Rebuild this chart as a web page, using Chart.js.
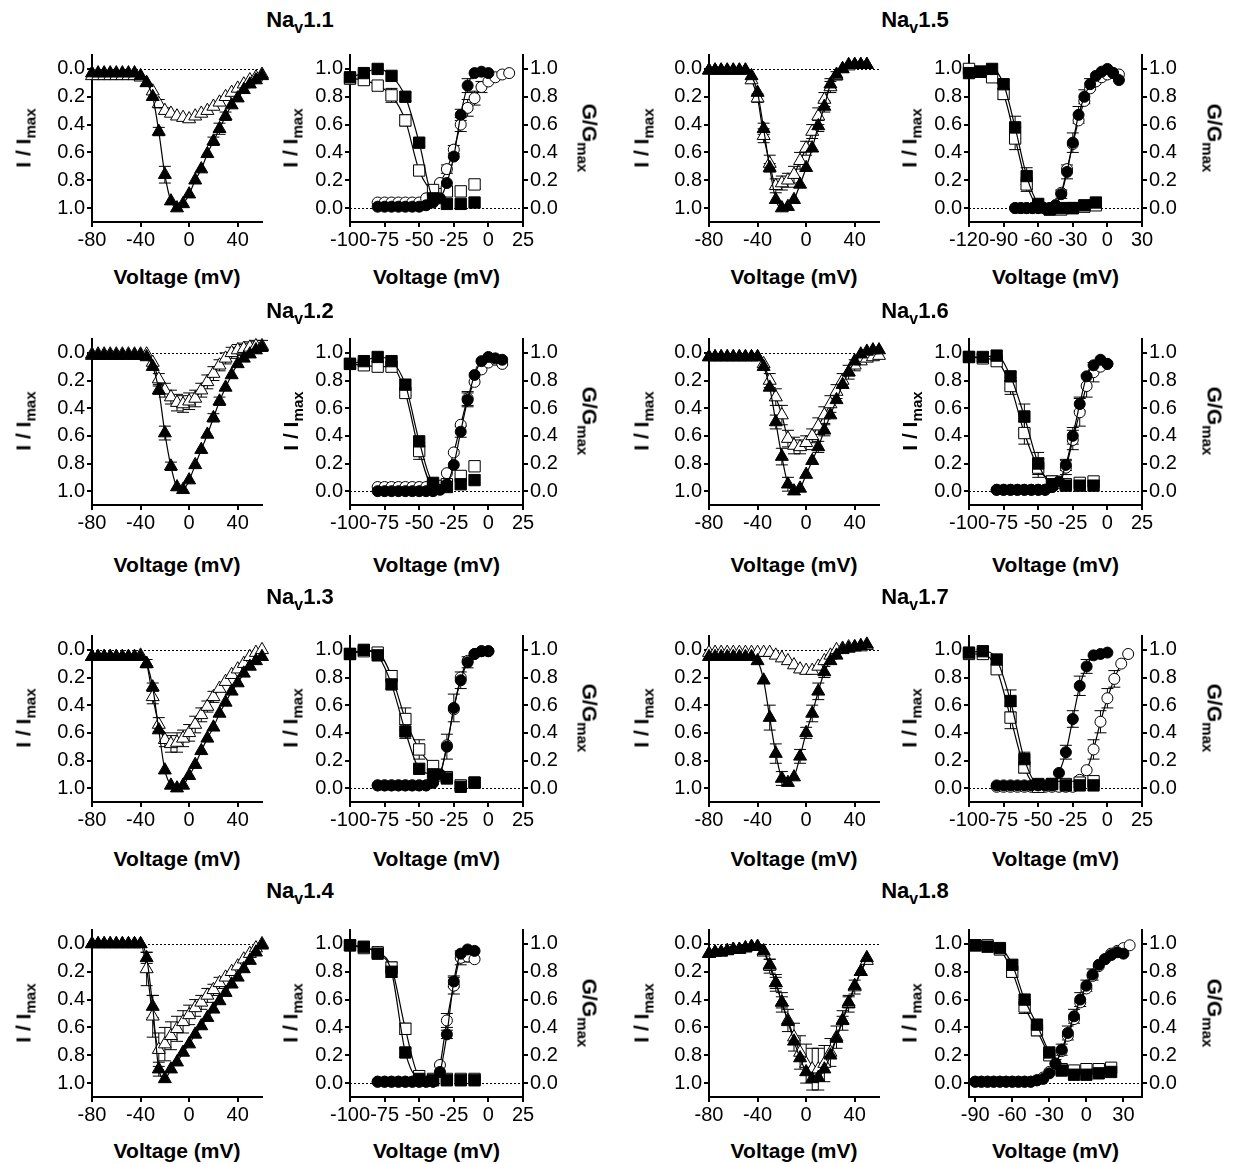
<!DOCTYPE html>
<html><head><meta charset="utf-8">
<script src="https://cdn.jsdelivr.net/npm/chart.js@4.4.1/dist/chart.umd.min.js"></script>
<style>
body{margin:0;background:#fff;width:1233px;height:1164px;position:relative;overflow:hidden;font-family:"Liberation Sans",Arial,Helvetica,sans-serif;}
canvas{position:absolute;}
.lbl{position:absolute;font-weight:bold;white-space:nowrap;color:#000;line-height:1;}
.ttl{font-size:22px;transform:translate(-50%,-50%);}
.ax{font-size:21px;transform:translate(-50%,-50%);}
.rl{font-size:21px;transform:translate(-50%,-50%) rotate(-90deg);}
.rr{font-size:21px;transform:translate(-50%,-50%) rotate(90deg);}
sub{font-size:72%;vertical-align:-0.35em;line-height:0;}
</style></head><body>
<script>
// ---------- voltages / categories ----------
const ivV   = [-80,-75,-70,-65,-60,-55,-50,-45,-40,-35,-30,-25,-20,-15,-10,-5,0,5,10,15,20,25,30,35,40,45,50,55,60];
const ivV50 = [-80,-75,-70,-65,-60,-55,-50,-45,-40,-35,-30,-25,-20,-15,-10,-5,0,5,10,15,20,25,30,35,40,45,50];
const inV   = [-100,-90,-80,-70,-60,-50,-40,-30,-20,-10];
const inV15 = [-120,-110,-100,-90,-80,-70,-60,-50,-40,-30,-20,-10];
const inV18 = [-90,-80,-70,-60,-50,-40,-30,-20,-10,0,10,20];
const actV0   = [-80,-75,-70,-65,-60,-55,-50,-45,-40,-35,-30,-25,-20,-15,-10,-5,0];
const actV10  = [-80,-75,-70,-65,-60,-55,-50,-45,-40,-35,-30,-25,-20,-15,-10,-5,0,5,10];
const actV15  = [-80,-75,-70,-65,-60,-55,-50,-45,-40,-35,-30,-25,-20,-15,-10,-5,0,5,10,15];
const actVm10 = [-80,-75,-70,-65,-60,-55,-50,-45,-40,-35,-30,-25,-20,-15,-10];
const actV18F = [-90,-85,-80,-75,-70,-65,-60,-55,-50,-45,-40,-35,-30,-25,-20,-15,-10,-5,0,5,10,15,20,25,30];
const actV18O = [-90,-85,-80,-75,-70,-65,-60,-55,-50,-45,-40,-35,-30,-25,-20,-15,-10,-5,0,5,10,15,20,25,30,35];

// ---------- tick labels ----------
const ivTicksX  = [-80,-40,0,40];
const yTicks    = [0,0.2,0.4,0.6,0.8,1.0];
const rTicksX   = [-100,-75,-50,-25,0,25];
const rTicksX15 = [-120,-90,-60,-30,0,30];
const rTicksX18 = [-90,-60,-30,0,30];

// ---------- Nav1.1 ----------
const iv11F  = [0.03,0.03,0.03,0.03,0.03,0.03,0.03,0.03,0.05, 0.1,0.2,0.45,0.76,0.95,1.0,0.97,0.9,0.8,0.72, 0.61,0.52,0.43,0.34,0.26,0.21,0.15,0.11,0.08,0.05];
const iv11O  = [0.05,0.05,0.05,0.05,0.05,0.05,0.05,0.05,0.06, 0.1,0.16,0.25,0.3,0.32,0.34,0.35,0.36,0.34,0.32, 0.3,0.27,0.24,0.2,0.17,0.14,0.11,0.08,0.06,0.04];
const iv11FE = [0,0,0,0,0,0,0,0,0, 0,0,0.03,0.06,0,0,0,0,0,0, 0,0.03,0.04,0.03,0,0,0,0,0,0];
const iv11OE = [0,0,0,0,0,0,0,0,0, 0,0,0.03,0.02,0,0,0,0,0,0, 0,0,0,0,0,0,0,0,0,0];
const in11F  = [0.94,0.97,1.0,0.95,0.8,0.47,0.07,0.03,0.03,0.04];
const in11O  = [0.93,0.92,0.88,0.81,0.63,0.27,0.13,0.12,0.12,0.17];
const in11FE = [0,0,0,0,0.03,0.03,0,0,0,0];
const in11OE = [0,0,0,0.05,0.04,0,0,0,0,0.03];
const act11F  = [0.01,0.01,0.01,0.01,0.01,0.01,0.01,0.02,0.04,0.07,0.18,0.37,0.67,0.88,0.97,0.98,0.97];
const act11FE = [0,0,0,0,0,0,0,0,0,0,0,0,0.04,0.05,0,0,0];
const act11O  = [0.04,0.04,0.04,0.04,0.04,0.04,0.04,0.07,0.11,0.18,0.28,0.42,0.6,0.72,0.79,0.87,0.91,0.94,0.96,0.97];
const act11OE = [0,0,0,0,0,0,0,0,0,0,0.03,0.03,0.05,0.06,0.05,0.04,0,0,0,0];

// ---------- Nav1.5 ----------
const iv15F  = [0.01,0.01,0.01,0.01,0.01,0.01,0.01, 0.05,0.17,0.43,0.71,0.94,1.0,0.99,0.94,0.83,0.71,0.57,0.41,0.27,0.11,0.04,0.0,-0.03,-0.03,-0.03,-0.03];
const iv15O  = [0.01,0.01,0.01,0.01,0.01,0.01,0.01, 0.08,0.21,0.48,0.68,0.84,0.82,0.8,0.76,0.66,0.57,0.45,0.34,0.22,0.13,0.05,0.0,-0.02,-0.03,-0.03,-0.03];
const iv15FE = [0,0,0,0,0,0,0,0,0,0.04,0.03,0,0,0,0,0,0,0,0.04,0.04,0.04,0,0,0,0,0,0];
const iv15OE = [0,0,0,0,0,0,0,0,0.03,0.05,0.06,0.05,0.05,0.05,0.06,0.06,0.05,0.05,0.06,0.05,0.04,0.03,0,0,0,0,0];
const in15F  = [0.97,0.98,1.0,0.89,0.58,0.23,0.03,-0.01,0.0,0.0,0.02,0.04];
const in15O  = [1.0,0.98,0.94,0.82,0.5,0.17,0.01,-0.01,-0.01,0.0,0.01,0.02];
const in15FE = [0,0,0,0.03,0.08,0.06,0,0,0,0,0,0];
const in15OE = [0,0,0,0.04,0.08,0.05,0,0,0,0,0,0];
const act15F  = [0,0,0,0,0,0,0,0.02, 0.1,0.26,0.47,0.67,0.8,0.89,0.95,0.98,1.0,0.97,0.92];
const act15FE = [0,0,0,0,0,0,0,0,0.03,0.05,0.07,0.06,0.05,0.04,0,0,0,0,0];
const act15O  = [0,0,0,0,0,0,0,0.02, 0.11,0.28,0.46,0.63,0.77,0.86,0.91,0.94,0.96,0.97,0.96];
const act15OE = [0,0,0,0,0,0,0,0,0,0,0,0,0,0,0,0,0,0,0];

// ---------- Nav1.2 ----------
const iv12F  = [0.02,0.02,0.02,0.02,0.02,0.02,0.02,0.02,0.02, 0.03,0.1,0.27,0.58,0.82,0.97,0.99,0.92,0.81,0.7, 0.59,0.47,0.35,0.25,0.16,0.08,0.04,0.01,-0.02,-0.04];
const iv12O  = [0.01,0.01,0.01,0.01,0.01,0.01,0.01,0.01,0.01,0.01, 0.07,0.19,0.27,0.32,0.36,0.37,0.35,0.33,0.27, 0.21,0.15,0.09,0.04,0.0,-0.02,-0.03,-0.04,-0.05,-0.05];
const iv12FE = [0,0,0,0,0,0,0,0,0,0,0,0.03,0.05,0.03,0,0,0,0,0,0,0.03,0.03,0,0,0,0,0,0,0];
const iv12OE = [0,0,0,0,0,0,0,0,0,0,0, 0.04,0.05,0.05,0.06,0.06,0.06,0.06,0.05,0.05,0.05,0.04,0.04,0.04,0.04,0.04,0.04,0.04,0.04];
const in12F  = [0.92,0.94,0.97,0.94,0.77,0.36,0.06,0.03,0.05,0.08];
const in12O  = [0.92,0.91,0.9,0.9,0.71,0.29,0.04,0.05,0.11,0.18];
const in12FE = [0,0,0,0,0,0,0,0,0,0];
const in12OE = [0,0,0,0,0.02,0.06,0,0,0,0];
const act12F  = [0,0,0,0,0,0,0,0,0, 0.01,0.05,0.19,0.43,0.66,0.84,0.94,0.97,0.96,0.95];
const act12FE = [0,0,0,0,0,0,0,0,0,0,0,0,0.04,0.05,0,0,0,0,0];
const act12O  = [0.03,0.03,0.03,0.03,0.03,0.03,0.03,0.03,0.03, 0.04,0.13,0.28,0.48,0.67,0.79,0.88,0.93,0.95,0.92];
const act12OE = [0,0,0,0,0,0,0,0,0,0,0,0,0,0.05,0,0,0,0,0];

// ---------- Nav1.6 ----------
const iv16F  = [0.03,0.03,0.03,0.03,0.03,0.03,0.03,0.03,0.03, 0.1,0.25,0.5,0.75,0.95,1.0,0.98,0.88,0.78,0.68, 0.56,0.45,0.34,0.23,0.14,0.06,0.01,-0.01,-0.02,-0.02];
const iv16O  = [0.03,0.03,0.03,0.03,0.03,0.03,0.03,0.03,0.03, 0.08,0.2,0.32,0.45,0.62,0.67,0.68,0.65,0.6,0.53, 0.45,0.37,0.28,0.2,0.14,0.09,0.06,0.04,0.03,0.02];
const iv16FE = [0,0,0,0,0,0,0,0,0,0,0,0.05,0.06,0.05,0,0,0,0,0.04,0.04,0,0,0,0,0,0,0,0,0];
const iv16OE = [0,0,0,0,0,0,0,0,0,0, 0.05,0.06,0.07,0.06,0.06,0.05,0.05,0.05,0.06,0.06,0.06,0.05,0.05,0.05,0.04, 0,0,0,0];
const in16F  = [0.97,0.97,0.98,0.83,0.54,0.2,0.05,0.04,0.04,0.04];
const in16O  = [0.97,0.96,0.94,0.76,0.42,0.17,0.07,0.05,0.06,0.07];
const in16FE = [0,0,0,0.03,0.09,0.08,0,0,0,0];
const in16OE = [0,0,0,0.06,0.08,0.07,0.04,0,0,0];
const act16F  = [0.01,0.01,0.01,0.01,0.01,0.01,0.01,0.01, 0.03,0.07,0.19,0.4,0.63,0.83,0.91,0.95,0.92];
const act16FE = [0,0,0,0,0,0,0,0,0,0,0.04,0.06,0.05,0,0,0,0];
const act16O  = [0.01,0.01,0.01,0.01,0.01,0.01,0.01,0.01, 0.03,0.06,0.17,0.37,0.57,0.76,0.86,0.9,0.92];
const act16OE = [0,0,0,0,0,0,0,0,0,0,0.05,0.07,0.1,0.08,0.07,0,0];

// ---------- Nav1.3 ----------
const iv13F  = [0.05,0.05,0.05,0.05,0.05,0.05,0.05,0.05,0.05, 0.1,0.27,0.58,0.87,0.98,1.0,0.98,0.91,0.83,0.73, 0.64,0.56,0.46,0.38,0.3,0.24,0.17,0.12,0.08,0.05];
const iv13O  = [0.05,0.05,0.05,0.05,0.05,0.05,0.05,0.05,0.04, 0.1,0.34,0.54,0.65,0.68,0.67,0.64,0.6,0.54,0.47, 0.41,0.34,0.28,0.23,0.18,0.14,0.1,0.05,0.02,0.0];
const iv13FE = [0,0,0,0,0,0,0,0,0,0.03,0.03,0,0,0,0,0,0,0,0,0,0,0,0,0,0,0,0,0,0];
const iv13OE = [0,0,0,0,0,0,0,0,0,0, 0.05,0.05,0.05,0.06,0.07,0.06,0.06,0.06,0.05,0.04,0.04, 0,0,0,0,0,0,0,0];
const in13F  = [0.97,1.0,0.96,0.75,0.41,0.14,0.1,0.07,0.01,0.04];
const in13O  = [0.97,0.99,0.98,0.81,0.5,0.28,0.16,0.08,0.02,0.04];
const in13FE = [0,0,0,0.03,0.05,0,0,0,0,0];
const in13OE = [0,0,0,0.04,0.08,0.07,0,0,0,0];
const act13F  = [0.02,0.02,0.02,0.02,0.02,0.02,0.02,0.02, 0.04,0.1,0.3,0.58,0.78,0.91,0.97,0.99,0.99];
const act13FE = [0,0,0,0,0,0,0,0,0,0,0.09,0.1,0.06,0.04,0,0,0];
const act13O  = [0.02,0.02,0.02,0.02,0.02,0.02,0.02,0.02, 0.04,0.09,0.31,0.57,0.8,0.92,0.97,0.99,0.99];
const act13OE = [0,0,0,0,0,0,0,0,0,0,0,0,0,0,0,0,0];

// ---------- Nav1.7 ----------
const iv17F  = [0.05,0.05,0.05,0.05,0.05,0.05,0.05,0.05, 0.08,0.22,0.49,0.75,0.93,0.96,0.92,0.77,0.6,0.46, 0.3,0.16,0.08,0.04,0.0,-0.01,-0.02,-0.03,-0.04];
const iv17O  = [0.02,0.02,0.02,0.02,0.02,0.02,0.02,0.02,0.02,0.02,0.02, 0.04,0.06,0.08,0.11,0.14,0.15,0.15,0.12, 0.08,0.04,0.0,-0.01,-0.02,-0.02,-0.02,-0.03];
const iv17FE = [0,0,0,0,0,0,0,0,0,0,0.09,0.07,0.05,0,0,0.05,0.04,0.06,0.06,0.04,0,0,0,0,0,0,0];
const iv17OE = [0,0,0,0,0,0,0,0,0,0,0,0,0,0,0,0,0,0,0,0,0,0,0,0,0,0,0];
const in17F  = [0.98,0.99,0.93,0.63,0.21,0.03,0.03,0.02,0.02,0.02];
const in17O  = [0.97,0.97,0.86,0.51,0.15,0.01,0.03,0.03,0.04,0.05];
const in17FE = [0,0,0,0.08,0.05,0,0,0,0,0];
const in17OE = [0,0,0,0.08,0.04,0,0,0,0,0];
const act17F  = [0.02,0.02,0.02,0.02,0.02,0.02,0.02,0.02,0.02, 0.11,0.26,0.5,0.74,0.88,0.96,0.97,0.98];
const act17FE = [0,0,0,0,0,0,0,0,0,0,0.05,0.06,0.07,0.05,0,0,0];
const act17O  = [0.01,0.01,0.01,0.01,0.01,0.01,0.01,0.01,0.01,0.01,0.01,0.01, 0.06,0.13,0.28,0.48,0.65,0.79,0.9,0.97];
const act17OE = [0,0,0,0,0,0,0,0,0,0,0,0,0,0,0.07,0.08,0.07,0.06,0,0];

// ---------- Nav1.4 ----------
const iv14F  = [0,0,0,0,0,0,0,0,0, 0.1,0.45,0.9,0.97,0.9,0.85,0.78,0.72,0.65,0.59, 0.53,0.47,0.41,0.35,0.29,0.24,0.18,0.12,0.06,0.01];
const iv14O  = [0,0,0,0,0,0,0,0,0, 0.18,0.52,0.76,0.72,0.66,0.61,0.56,0.51,0.46,0.42, 0.37,0.33,0.28,0.24,0.2,0.16,0.11,0.07,0.03,0.0];
const iv14FE = [0,0,0,0,0,0,0,0,0,0.04,0.08,0.05,0,0,0,0,0,0,0,0,0,0,0,0,0,0,0,0,0];
const iv14OE = [0,0,0,0,0,0,0,0,0, 0.12,0.15,0.12,0.12,0.1,0.09,0.08,0.07,0.06,0.05,0.05,0.04,0.04, 0,0,0,0,0,0,0];
const in14F  = [0.99,0.98,0.93,0.8,0.22,0.03,0.02,0.02,0.02,0.02];
const in14O  = [0.99,0.97,0.94,0.83,0.39,0.05,0.03,0.03,0.03,0.03];
const in14FE = [0,0,0,0.04,0.03,0,0,0,0,0];
const in14OE = [0,0,0,0.04,0.04,0,0,0,0,0];
const act14F  = [0.01,0.01,0.01,0.01,0.01,0.01,0.01,0.01,0.01, 0.08,0.35,0.73,0.93,0.96,0.95];
const act14FE = [0,0,0,0,0,0,0,0,0,0,0.03,0.04,0,0,0];
const act14O  = [0.01,0.01,0.01,0.01,0.01,0.01,0.01,0.01,0.01, 0.13,0.45,0.7,0.9,0.91,0.89];
const act14OE = [0,0,0,0,0,0,0,0,0,0,0.05,0.06,0.05,0.04,0];

// ---------- Nav1.8 ----------
const iv18F  = [0.07,0.06,0.06,0.05,0.04,0.04,0.03,0.02,0.02, 0.05,0.15,0.28,0.42,0.56,0.7,0.82,0.92,0.97,0.96, 0.9,0.8,0.68,0.55,0.42,0.3,0.2,0.1];
const iv18O  = [0.07,0.06,0.06,0.05,0.04,0.04,0.03,0.02,0.02, 0.06,0.16,0.28,0.42,0.55,0.67,0.78,0.86,0.9,0.9, 0.86,0.78,0.67,0.55,0.43,0.31,0.2,0.12];
const iv18FE = [0,0,0,0,0,0,0,0,0,0,0.04,0.04,0.04,0,0,0,0,0,0,0,0,0,0.03,0.04,0,0,0];
const iv18OE = [0,0,0,0,0,0,0,0,0,0, 0.05,0.06,0.07,0.08,0.1,0.12,0.14,0.15,0.15,0.13,0.1,0.08,0.07,0.06,0.05, 0,0];
const in18F  = [0.99,0.98,0.97,0.85,0.6,0.42,0.22,0.09,0.06,0.06,0.07,0.08];
const in18O  = [0.99,0.99,0.96,0.8,0.55,0.38,0.2,0.1,0.09,0.1,0.1,0.11];
const in18FE = [0,0,0,0,0,0,0,0,0,0,0,0];
const in18OE = [0,0,0,0.04,0.05,0.04,0,0,0,0,0,0];
const act18F  = [0.01,0.01,0.01,0.01,0.01,0.01,0.01,0.01,0.01,0.01, 0.02,0.03,0.07,0.14,0.24,0.36,0.48,0.6,0.7,0.78,0.85,0.89,0.92,0.94,0.93];
const act18FE = [0,0,0,0,0,0,0,0,0,0,0,0,0,0.03,0.04,0.05,0.05,0.05,0.04,0.04,0,0,0,0,0];
const act18O  = [0.01,0.01,0.01,0.01,0.01,0.01,0.01,0.01,0.01,0.01, 0.02,0.04,0.08,0.14,0.23,0.34,0.46,0.58,0.68,0.77,0.84,0.89,0.93,0.95,0.97,0.99];
const act18OE = [0,0,0,0,0,0,0,0,0,0,0,0,0,0,0,0,0,0,0,0,0,0,0,0,0,0];

// ---------- layout (positions only) ----------
const rows = [
  {top: 53,  h: 169, xl: 276,  tt: 20},
  {top: 337, h: 168, xl: 564,  tt: 311},
  {top: 634, h: 168, xl: 858,  tt: 597},
  {top: 928, h: 169, xl: 1150, tt: 891}
];
const cols = [
  {iv: 92,  act: 350, ivLab: 23,  actLab: 290, gLab: 590,  tx: 300},
  {iv: 709, act: 969, ivLab: 641, actLab: 909, gLab: 1215, tx: 915}
];
const IVW = 170, ACTW = 173;

const channels = [
  {name: '1.1', row: 0, col: 0,
   iv: {v: ivV, f: iv11F, o: iv11O, fe: iv11FE, oe: iv11OE},
   act: {xr: [-100, 25], xt: rTicksX, inV: inV, inF: in11F, inO: in11O, inFE: in11FE, inOE: in11OE, fit: 6,
         aFV: actV0, aF: act11F, aFE: act11FE, aOV: actV15, aO: act11O, aOE: act11OE}},
  {name: '1.5', row: 0, col: 1,
   iv: {v: ivV50, f: iv15F, o: iv15O, fe: iv15FE, oe: iv15OE},
   act: {xr: [-120, 30], xt: rTicksX15, inV: inV15, inF: in15F, inO: in15O, inFE: in15FE, inOE: in15OE, fit: 6,
         aFV: actV10, aF: act15F, aFE: act15FE, aOV: actV10, aO: act15O, aOE: act15OE}},
  {name: '1.2', row: 1, col: 0,
   iv: {v: ivV, f: iv12F, o: iv12O, fe: iv12FE, oe: iv12OE},
   act: {xr: [-100, 25], xt: rTicksX, inV: inV, inF: in12F, inO: in12O, inFE: in12FE, inOE: in12OE, fit: 6,
         aFV: actV10, aF: act12F, aFE: act12FE, aOV: actV10, aO: act12O, aOE: act12OE}},
  {name: '1.6', row: 1, col: 1,
   iv: {v: ivV, f: iv16F, o: iv16O, fe: iv16FE, oe: iv16OE},
   act: {xr: [-100, 25], xt: rTicksX, inV: inV, inF: in16F, inO: in16O, inFE: in16FE, inOE: in16OE, fit: 6,
         aFV: actV0, aF: act16F, aFE: act16FE, aOV: actV0, aO: act16O, aOE: act16OE}},
  {name: '1.3', row: 2, col: 0,
   iv: {v: ivV, f: iv13F, o: iv13O, fe: iv13FE, oe: iv13OE},
   act: {xr: [-100, 25], xt: rTicksX, inV: inV, inF: in13F, inO: in13O, inFE: in13FE, inOE: in13OE, fit: 6,
         aFV: actV0, aF: act13F, aFE: act13FE, aOV: actV0, aO: act13O, aOE: act13OE}},
  {name: '1.7', row: 2, col: 1,
   iv: {v: ivV50, f: iv17F, o: iv17O, fe: iv17FE, oe: iv17OE},
   act: {xr: [-100, 25], xt: rTicksX, inV: inV, inF: in17F, inO: in17O, inFE: in17FE, inOE: in17OE, fit: 6,
         aFV: actV0, aF: act17F, aFE: act17FE, aOV: actV15, aO: act17O, aOE: act17OE}},
  {name: '1.4', row: 3, col: 0,
   iv: {v: ivV, f: iv14F, o: iv14O, fe: iv14FE, oe: iv14OE},
   act: {xr: [-100, 25], xt: rTicksX, inV: inV, inF: in14F, inO: in14O, inFE: in14FE, inOE: in14OE, fit: 6,
         aFV: actVm10, aF: act14F, aFE: act14FE, aOV: actVm10, aO: act14O, aOE: act14OE}},
  {name: '1.8', row: 3, col: 1,
   iv: {v: ivV50, f: iv18F, o: iv18O, fe: iv18FE, oe: iv18OE},
   act: {xr: [-95, 45], xt: rTicksX18, inV: inV18, inF: in18F, inO: in18O, inFE: in18FE, inOE: in18OE, fit: 7,
         aFV: actV18F, aF: act18F, aFE: act18FE, aOV: actV18O, aO: act18O, aOE: act18OE}}
];

// ---------- chart helpers ----------
const FONT = {family: '"Liberation Sans", Arial, Helvetica, sans-serif', size: 20};
const LEFTW = 62, RIGHTW = 62, TOPP = 12, BOTH = 36;

const refPlugin = {
  id: 'refAndErrors',
  beforeDatasetsDraw(chart) {
    const {ctx, chartArea, scales} = chart;
    ctx.save();
    const y0 = scales.y.getPixelForValue(0);
    ctx.strokeStyle = '#000'; ctx.lineWidth = 1; ctx.setLineDash([2, 2]);
    ctx.beginPath(); ctx.moveTo(chartArea.left, Math.round(y0) + 0.5); ctx.lineTo(chartArea.right, Math.round(y0) + 0.5); ctx.stroke();
    ctx.setLineDash([]);
    chart.data.datasets.forEach(ds => {
      if (!ds.errs) return;
      ds.data.forEach((p, j) => {
        const e = ds.errs[j];
        if (!e) return;
        const x = scales.x.getPixelForValue(p.x);
        const ya = scales.y.getPixelForValue(p.y - e);
        const yb = scales.y.getPixelForValue(p.y + e);
        ctx.beginPath();
        ctx.moveTo(x, ya); ctx.lineTo(x, yb);
        ctx.moveTo(x - 6, ya); ctx.lineTo(x + 6, ya);
        ctx.moveTo(x - 6, yb); ctx.lineTo(x + 6, yb);
        ctx.stroke();
      });
    });
    ctx.restore();
  }
};

function xScale(range, ticks) {
  return {
    type: 'linear', position: 'bottom', min: range[0], max: range[1],
    afterBuildTicks: s => { s.ticks = ticks.map(v => ({value: v})); },
    afterFit: s => { s.height = BOTH; },
    ticks: {color: '#000', font: FONT, padding: 1, autoSkip: false, maxRotation: 0, minRotation: 0, callback: v => String(v)},
    grid: {display: true, drawOnChartArea: false, drawTicks: true, tickLength: 5, tickColor: '#000', tickWidth: 2, color: '#000', lineWidth: 2},
    border: {display: true, color: '#000', width: 2}
  };
}
function yScale(position, reverse, w) {
  return {
    type: 'linear', position, min: -0.1, max: 1.1, reverse,
    afterBuildTicks: s => { s.ticks = yTicks.map(v => ({value: v})); },
    afterFit: s => { s.width = w; },
    ticks: {color: '#000', font: FONT, padding: 2, autoSkip: false, callback: v => Number(v).toFixed(1)},
    grid: {display: true, drawOnChartArea: false, drawTicks: true, tickLength: 5, tickColor: '#000', tickWidth: 2, color: '#000', lineWidth: 2},
    border: {display: true, color: '#000', width: 2}
  };
}
function series(xs, ys, errs, style, filled, fitEnd, order) {
  const ds = {
    data: xs.map((x, i) => ({x, y: ys[i]})),
    showLine: true, borderColor: '#000', borderWidth: 1.2,
    cubicInterpolationMode: 'monotone',
    pointStyle: style,
    pointRadius: style === 'circle' ? 5.5 : (style === 'rect' ? 8 : 7.5),
    pointBackgroundColor: filled ? '#000' : '#fff',
    pointBorderColor: '#000', pointBorderWidth: 1,
    clip: false, errs, order
  };
  if (fitEnd != null) {
    ds.segment = {borderColor: c => (c.p1DataIndex <= fitEnd ? '#000' : 'rgba(0,0,0,0)')};
  }
  return ds;
}
function makeCanvas(left, top, w, h) {
  const c = document.createElement('canvas');
  c.width = w; c.height = h;
  c.style.left = left + 'px'; c.style.top = top + 'px';
  c.style.width = w + 'px'; c.style.height = h + 'px';
  document.body.appendChild(c);
  return c;
}
function label(html, x, y, cls) {
  const d = document.createElement('div');
  d.className = 'lbl ' + cls;
  d.innerHTML = html;
  d.style.left = x + 'px'; d.style.top = y + 'px';
  document.body.appendChild(d);
}
const baseOpts = {responsive: false, animation: false, devicePixelRatio: 1, events: [],
  plugins: {legend: {display: false}, tooltip: {enabled: false}}};

channels.forEach(ch => {
  const r = rows[ch.row], c = cols[ch.col];
  const ivC = makeCanvas(c.iv - LEFTW, r.top - TOPP, LEFTW + IVW + 18, TOPP + r.h + BOTH);
  new Chart(ivC, {
    type: 'scatter',
    data: {datasets: [
      series(ch.iv.v, ch.iv.f, ch.iv.fe, 'triangle', true, null, 0),
      series(ch.iv.v, ch.iv.o, ch.iv.oe, 'triangle', false, null, 1)
    ]},
    options: Object.assign({}, baseOpts, {
      layout: {padding: {top: TOPP, right: 18, left: 0, bottom: 0}},
      scales: {x: xScale([-80, 60], ivTicksX), y: yScale('left', true, LEFTW)}
    }),
    plugins: [refPlugin]
  });
  const a = ch.act;
  const acC = makeCanvas(c.act - LEFTW, r.top - TOPP, LEFTW + ACTW + RIGHTW, TOPP + r.h + BOTH);
  new Chart(acC, {
    type: 'scatter',
    data: {datasets: [
      series(a.inV, a.inF, a.inFE, 'rect', true, a.fit, 0),
      series(a.aFV, a.aF, a.aFE, 'circle', true, null, 1),
      series(a.inV, a.inO, a.inOE, 'rect', false, a.fit, 2),
      series(a.aOV, a.aO, a.aOE, 'circle', false, null, 3)
    ]},
    options: Object.assign({}, baseOpts, {
      layout: {padding: {top: TOPP, right: 0, left: 0, bottom: 0}},
      scales: {x: xScale(a.xr, a.xt), y: yScale('left', false, LEFTW), y2: yScale('right', false, RIGHTW)}
    }),
    plugins: [refPlugin]
  });
  const midY = r.top + r.h / 2;
  label('Na<sub>v</sub>' + ch.name, c.tx, r.tt, 'ttl');
  label('Voltage (mV)', c.iv + IVW / 2, r.xl, 'ax');
  label('Voltage (mV)', c.act + ACTW / 2, r.xl, 'ax');
  label('I / I<sub>max</sub>', c.ivLab, midY, 'rl');
  label('I / I<sub>max</sub>', c.actLab, midY, 'rl');
  label('G/G<sub>max</sub>', c.gLab, midY, 'rr');
});
</script>
</body></html>
